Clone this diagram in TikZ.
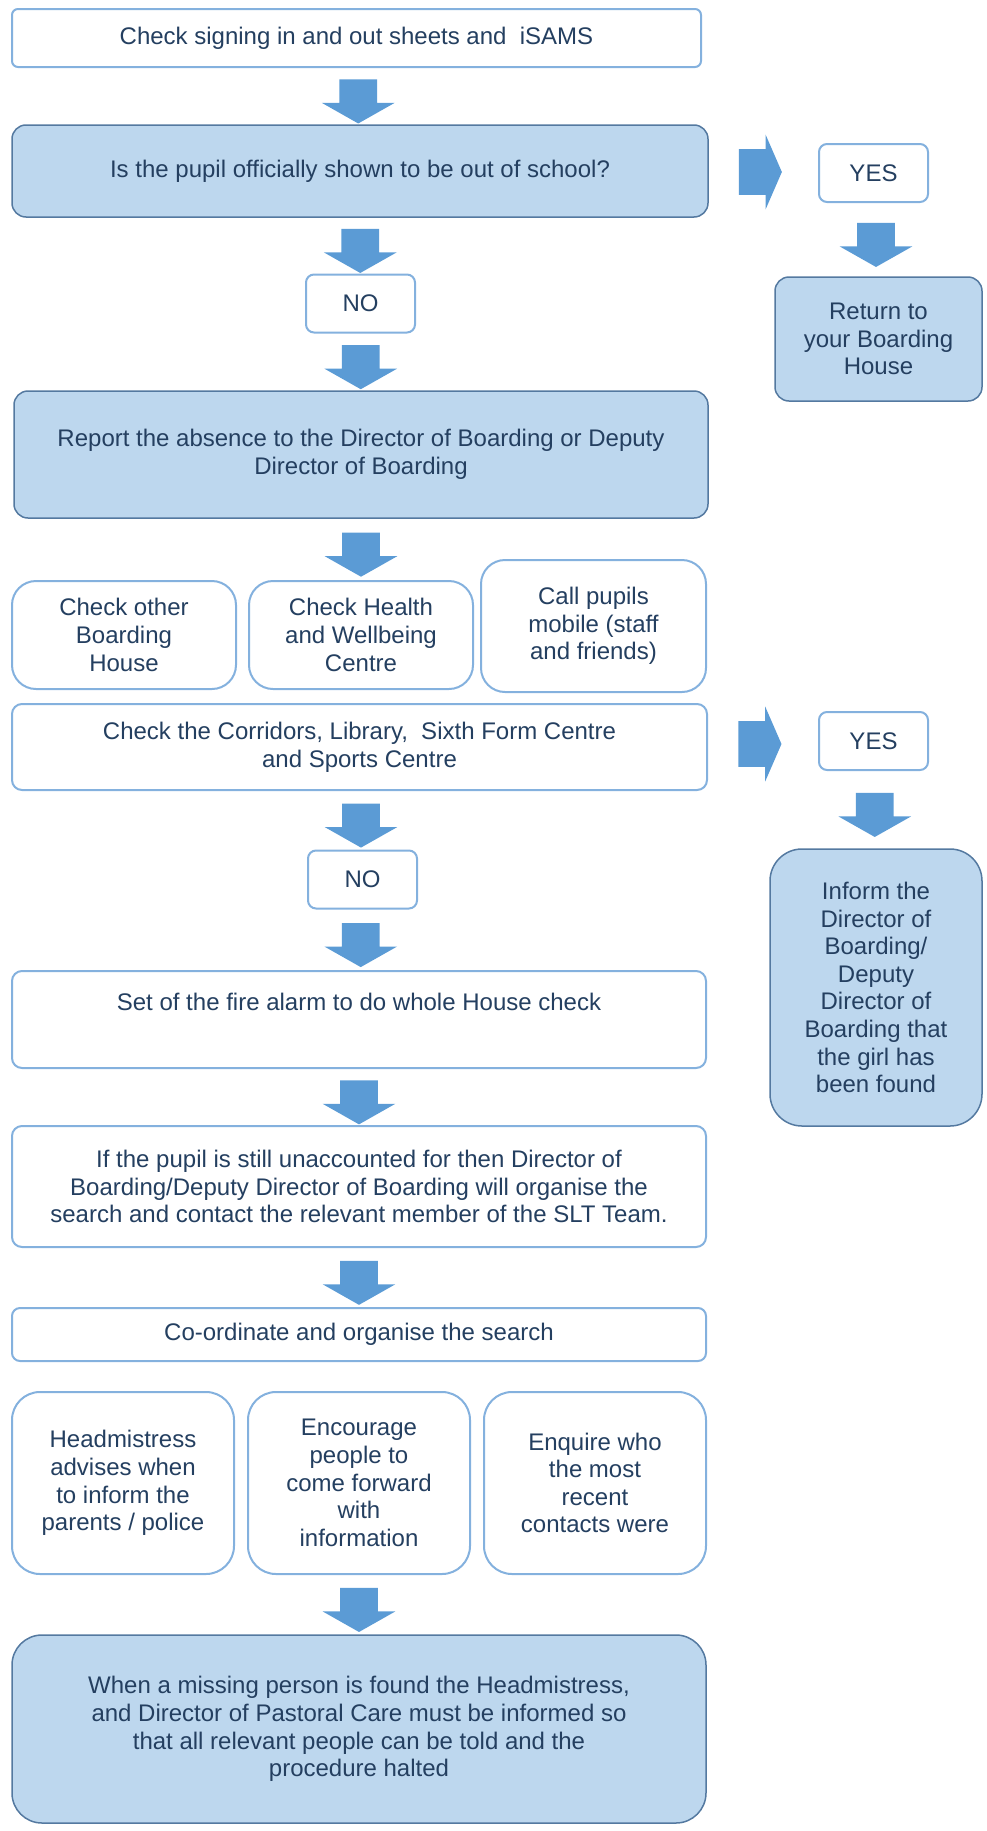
\documentclass[tikz,border=0pt]{standalone}
\usepackage{fontspec}
\setmainfont{Liberation Sans}
\usetikzlibrary{shapes.arrows,calc,positioning}
\definecolor{boxblue}{HTML}{BDD7EE}
\definecolor{lineblue}{HTML}{84B1DE}
\definecolor{darkline}{HTML}{5479A0}
\definecolor{arrowblue}{HTML}{5B9BD5}
\definecolor{textnavy}{HTML}{243F60}
\begin{document}
\begin{tikzpicture}[
x=0.5pt,y=-0.5pt,
font=\fontsize{12}{13.8}\selectfont,
every node/.style={text=textnavy,align=center,inner sep=0pt},
whitebox/.style={draw=lineblue,line width=1pt,fill=white,rounded corners=4pt},
bluebox/.style={draw=darkline,line width=0.75pt,fill=boxblue,rounded corners=7pt},
yesno/.style={whitebox,minimum width=54.5pt,minimum height=29pt},
wide/.style={minimum width=347pt},
tall/.style={whitebox,rounded corners=14pt,minimum width=111pt,minimum height=91pt},
downarrow/.style={single arrow,fill=arrowblue,shape border rotate=270,inner xsep=9.25pt,inner ysep=0pt,
  minimum height=22pt,minimum width=36pt,single arrow head extend=8.75pt,single arrow tip angle=121},
rightarrow/.style={single arrow,fill=arrowblue,inner xsep=0pt,inner ysep=11.25pt,
  minimum height=21.5pt,minimum width=37pt,single arrow head extend=7.25pt,single arrow tip angle=133}
]
\useasboundingbox (0,0) rectangle (986,1831);

% first question
\node[whitebox,rounded corners=3pt,minimum width=344.5pt,minimum height=29pt] (signing) at (356.5,38)
	{Check signing in and out sheets and \ iSAMS};
\node[bluebox,minimum width=348pt,minimum height=46pt] (official) at (360,171)
	{Is the pupil officially shown to be out of school?};
\node[yesno] (yesout) at (873.5,173) {YES};
\node[bluebox,minimum width=103.5pt,minimum height=62pt] (return) at (878.5,339)
	{Return to\\your Boarding\\House};
\node[yesno] (noout) at (360.5,303.5) {NO};
\node[bluebox,wide,minimum height=63.5pt] (report) at (361,454.5)
	{Report the absence to the Director of Boarding or Deputy\\Director of Boarding};

% first checks
\node[whitebox,rounded corners=12pt,minimum width=112pt,minimum height=54pt] (otherhouse) at (124,635)
	{Check other\\Boarding\\House};
\node[whitebox,rounded corners=12pt,minimum width=112pt,minimum height=54pt] (healthcentre) at (361,635)
	{Check Health\\and Wellbeing\\Centre};
\node[whitebox,rounded corners=12pt,minimum width=112.5pt,minimum height=66pt] (callmobile) at (593.5,626)
	{Call pupils\\mobile (staff\\and friends)};
\node[whitebox,rounded corners=5pt,minimum width=347.5pt,minimum height=43pt] (corridors) at (359.5,747)
	{Check the Corridors, Library, \ Sixth Form Centre\\and Sports Centre};
\node[yesno] (yesfound) at (873.5,741) {YES};
\node[bluebox,rounded corners=16pt,minimum width=106pt,minimum height=138.5pt] (informfound) at (876,987.5)
	{Inform the\\Director of\\Boarding/\\Deputy\\Director of\\Boarding that\\the girl has\\been found};
\node[yesno] (nofound) at (362.5,879.5) {NO};

% search
\node[whitebox,rounded corners=5pt,wide,minimum height=48.5pt] (firealarm) at (359,1019.5)
	{Set of the fire alarm to do whole House check\\[3.8pt]\mbox{}};
\node[whitebox,rounded corners=5pt,wide,minimum height=60.5pt] (organise) at (359,1186.5)
	{If the pupil is still unaccounted for then Director of\\Boarding/Deputy Director of Boarding will organise the\\search and contact the relevant member of the SLT Team.};
\node[whitebox,wide,minimum height=26.5pt] (cosearch) at (359,1334.5)
	{Co-ordinate and organise the search};
\node[tall] (headinform) at (123,1483) {Headmistress\\advises when\\to inform the\\parents / police};
\node[tall] (encourage) at (359,1483) {Encourage\\people to\\come forward\\with\\information};
\node[tall] (enquire) at (595,1483) {Enquire who\\the most\\recent\\contacts were};
\node[bluebox,rounded corners=15pt,wide,minimum height=94pt] (halted) at (359,1729)
	{When a missing person is found the Headmistress,\\and Director of Pastoral Care must be informed so\\that all relevant people can be told and the\\procedure halted};

% block arrows
\node[downarrow] (a1) at ($(signing.south)!.5!(official.north)$) {};
\node[downarrow] (a2) at ($(official.south)!.5!(noout.north)$) {};
\node[downarrow] (a3) at ($(noout.south)!.5!(report.north)$) {};
\node[downarrow] (a4) at ($(report.south)!.5!(healthcentre.north)$) {};
\node[downarrow] (a5) at ($(corridors.south)!.5!(nofound.north)$) {};
\node[downarrow] (a6) at ($(nofound.south)!.5!(firealarm.north)$) {};
\node[downarrow] (a7) at ($(firealarm.south)!.5!(organise.north)$) {};
\node[downarrow] (a8) at ($(organise.south)!.5!(cosearch.north)$) {};
\node[downarrow] (a9) at ($(encourage.south)!.5!(halted.north)$) {};
\node[rightarrow,xshift=-4pt] (r1) at ($(official.east)!.5!(yesout.west)$) {};
\node[downarrow] (d1) at ($(yesout.south)!.5!(return.north)$) {};
\node[rightarrow,xshift=-4pt] (r2) at ($(corridors.east)!.5!(yesfound.west)$) {};
\node[downarrow] (d2) at ($(yesfound.south)!.5!(informfound.north)$) {};
\end{tikzpicture}
\end{document}
